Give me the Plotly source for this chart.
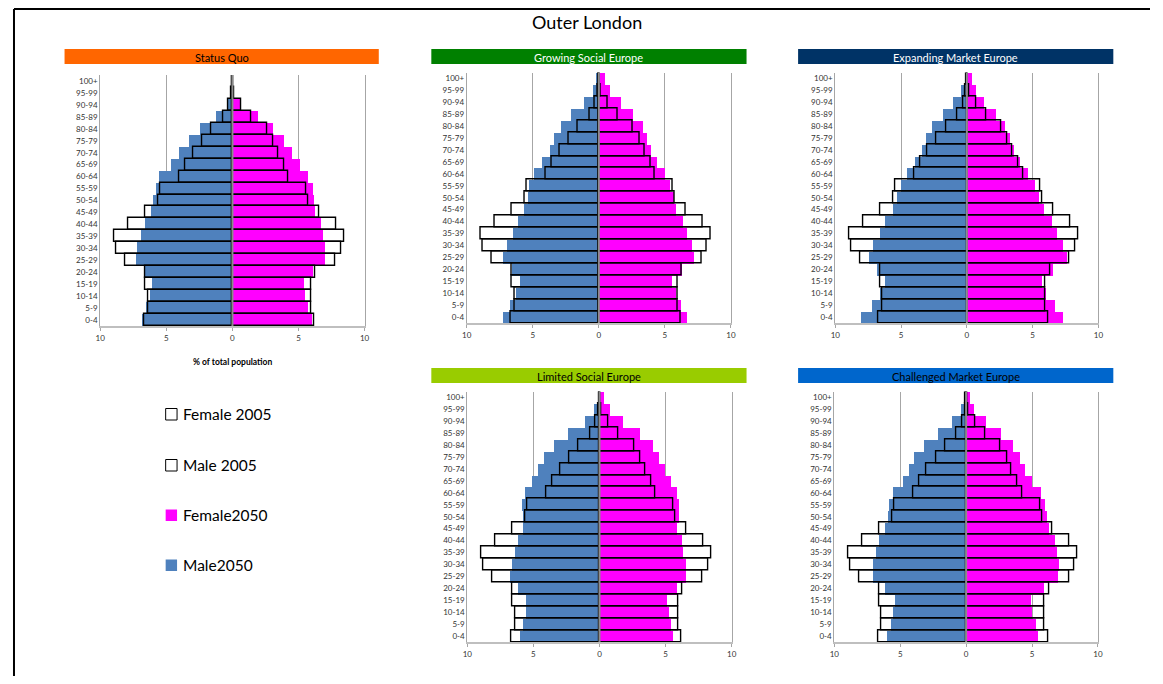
import plotly.graph_objects as go

W, H = 1163, 684
OFF = 8  # the page body keeps an 8px margin around the plot
FW, FH = W - 2 * OFF, H - 2 * OFF

# age bands, bottom to top
ages = ["0-4", "5-9", "10-14", "15-19", "20-24", "25-29", "30-34", "35-39",
        "40-44", "45-49", "50-54", "55-59", "60-64", "65-69", "70-74",
        "75-79", "80-84", "85-89", "90-94", "95-99", "100+"]

# 2005 base year (same in every panel), % of total population
male_2005 = [6.7, 6.4, 6.4, 6.6, 6.6, 8.1, 8.8, 8.95, 7.9, 6.6, 5.6, 5.45,
             4.0, 3.55, 3.0, 2.3, 1.6, 0.72, 0.3, 0.1, 0.03]
female_2005 = [6.2, 5.95, 5.95, 5.95, 6.3, 7.8, 8.2, 8.45, 7.85, 6.55, 5.75,
               5.6, 4.25, 3.9, 3.45, 3.1, 2.6, 1.45, 0.7, 0.15, 0.05]

# 2050 scenarios
sq_male = [6.8, 6.5, 6.25, 6.1, 6.6, 7.3, 7.2, 6.9, 6.6, 6.15, 6.0, 5.8,
           5.5, 4.65, 4.0, 3.3, 2.4, 1.2, 0.35, 0.05, 0.03]
sq_female = [6.0, 5.7, 5.5, 5.4, 6.15, 7.05, 7.05, 6.9, 6.7, 6.3, 6.2, 6.15,
             5.75, 5.1, 4.5, 3.9, 3.1, 1.95, 0.7, 0.15, 0.03]

gse_male = [7.3, 6.75, 6.3, 6.0, 6.6, 7.3, 7.0, 6.5, 6.15, 5.7, 5.4, 5.3,
            4.9, 4.3, 3.75, 3.45, 2.9, 2.1, 1.15, 0.5, 0.25]
gse_female = [6.65, 6.2, 5.8, 5.55, 6.3, 7.2, 7.05, 6.65, 6.35, 5.85, 5.65,
              5.4, 5.0, 4.4, 3.95, 3.65, 3.3, 2.6, 1.65, 0.8, 0.45]

eme_male = [8.0, 7.2, 6.55, 6.2, 6.8, 7.45, 7.15, 6.6, 6.2, 5.6, 5.3, 5.0,
            4.5, 3.9, 3.4, 3.05, 2.6, 1.8, 1.0, 0.4, 0.15]
eme_female = [7.3, 6.7, 6.0, 5.7, 6.6, 7.6, 7.3, 6.9, 6.5, 5.85, 5.5, 5.2,
              4.7, 4.05, 3.6, 3.3, 2.9, 2.25, 1.35, 0.7, 0.4]

lse_male = [6.0, 5.8, 5.55, 5.55, 6.15, 6.75, 6.6, 6.4, 6.15, 5.8, 5.75, 5.85,
            5.65, 5.05, 4.6, 4.2, 3.45, 2.35, 1.1, 0.4, 0.1]
lse_female = [5.6, 5.4, 5.25, 5.15, 5.85, 6.6, 6.6, 6.35, 6.3, 5.9, 6.0, 6.05,
              5.9, 5.4, 4.95, 4.55, 4.05, 3.05, 1.8, 0.8, 0.35]

cme_male = [6.0, 5.7, 5.5, 5.35, 6.15, 7.05, 7.05, 6.8, 6.6, 6.15, 5.9, 5.85,
            5.5, 4.8, 4.3, 3.9, 3.15, 2.1, 1.05, 0.4, 0.1]
cme_female = [5.45, 5.3, 5.0, 4.95, 5.95, 7.0, 7.05, 6.9, 6.75, 6.3, 6.15,
              6.0, 5.7, 5.0, 4.5, 4.1, 3.6, 2.7, 1.5, 0.65, 0.3]

scenario_names = ["Status Quo", "Growing Social Europe", "Expanding Market Europe",
                  "Limited Social Europe", "Challenged Market Europe"]
males_2050 = [sq_male, gse_male, eme_male, lse_male, cme_male]
females_2050 = [sq_female, gse_female, eme_female, lse_female, cme_female]

tick_vals = [-10, -5, 0, 5, 10]
tick_text = ["10", "5", "0", "5", "10"]

BLUE = "#4F81BD"
PINK = "#FF00FF"
FONT = "Lato"

# layout of panels, in screen pixels: plot box (x0, x1, y0, y1), title bar, bar colours
panels = [
    dict(plot=(96, 362.7, 75, 326), bar=(60, 377, 49, 64), bg="#FF6600", fg="black"),
    dict(plot=(465.7, 732.3, 72.5, 323), bar=(430, 748, 49, 64), bg="#008000", fg="white"),
    dict(plot=(837.5, 1103, 72.5, 323), bar=(800, 1118, 49, 64), bg="#003366", fg="white"),
    dict(plot=(466.3, 733, 391.5, 642), bar=(430, 748, 368, 383), bg="#99CC00", fg="black"),
    dict(plot=(836.5, 1102.5, 391.5, 642), bar=(800, 1118, 368, 383), bg="#0066CC", fg="black"),
]


def px(x):
    return (x - OFF) / FW


def py(y):
    return 1 - (y - OFF) / FH


def label(text, x, y, size, color="black", xanchor="center", bold=False):
    if bold:
        text = "<b>" + text + "</b>"
    return dict(text=text, xref="paper", yref="paper", x=px(x), y=py(y),
                xanchor=xanchor, yanchor="middle", showarrow=False,
                font=dict(size=size, color=color, family=FONT))


fig = go.Figure()
shapes = []
annotations = []

for i, p in enumerate(panels):
    sfx = "" if i == 0 else str(i + 1)
    xa, ya = "x" + sfx, "y" + sfx
    m50, f50 = males_2050[i], females_2050[i]

    fig.add_trace(go.Bar(y=ages, x=[-v for v in m50], orientation="h",
                         marker=dict(color=BLUE, line_width=0),
                         xaxis=xa, yaxis=ya, showlegend=False, name="Male2050"))
    fig.add_trace(go.Bar(y=ages, x=f50, orientation="h",
                         marker=dict(color=PINK, line_width=0),
                         xaxis=xa, yaxis=ya, showlegend=False, name="Female2050"))
    fig.add_trace(go.Bar(y=ages, x=[-v for v in male_2005], orientation="h",
                         marker=dict(color="rgba(0,0,0,0)", line=dict(color="black", width=1.4)),
                         xaxis=xa, yaxis=ya, showlegend=False, name="Male 2005"))
    fig.add_trace(go.Bar(y=ages, x=female_2005, orientation="h",
                         marker=dict(color="rgba(0,0,0,0)", line=dict(color="black", width=1.4)),
                         xaxis=xa, yaxis=ya, showlegend=False, name="Female 2005"))

    x0, x1, y0, y1 = p["plot"]
    fig.update_layout(**{
        "xaxis" + sfx: dict(domain=[px(x0), px(x1)], range=[-10, 10], anchor=ya,
                            tickvals=tick_vals, ticktext=tick_text,
                            showgrid=True, gridcolor="#A6A6A6", gridwidth=1,
                            zeroline=False, showline=True, linecolor="#BFBFBF", linewidth=2,
                            ticks="outside", ticklen=3, tickcolor="#A6A6A6",
                            tickfont=dict(size=8, color="#333333"), fixedrange=True),
        "yaxis" + sfx: dict(domain=[py(y1), py(y0)], type="category", anchor=xa,
                            range=[-0.5, len(ages) - 0.5],
                            showgrid=False, zeroline=False,
                            showline=True, mirror=True, linecolor="#A6A6A6", linewidth=1,
                            ticks="", tickfont=dict(size=8, color="#333333"),
                            fixedrange=True),
    })

    # centre axis line drawn over the bars
    shapes.append(dict(type="line", xref=xa, yref=ya + " domain", x0=0, x1=0, y0=0, y1=1,
                       line=dict(color="#8C8C8C", width=2), layer="above"))

    # coloured title bar
    bx0, bx1, by0, by1 = p["bar"]
    shapes.append(dict(type="rect", xref="paper", yref="paper",
                       x0=px(bx0), x1=px(bx1), y0=py(by1), y1=py(by0),
                       fillcolor=p["bg"], line_width=0, layer="below"))
    annotations.append(label(scenario_names[i], (bx0 + bx1) / 2, (by0 + by1) / 2 + 0.5,
                             11, color=p["fg"]))

# axis title under the first panel
annotations.append(label("% of total population", 229.3, 362, 8.5, bold=True))

# main title
annotations.append(label("Outer London", 587, 22, 18))

# hand-made legend
legend_items = [("Female 2005", "white", 414), ("Male 2005", "white", 465),
                ("Female2050", PINK, 515), ("Male2050", BLUE, 565)]
for text, color, yc in legend_items:
    line = dict(color="black", width=1) if color == "white" else dict(width=0)
    shapes.append(dict(type="rect", xref="paper", yref="paper",
                       x0=px(162), x1=px(173.5), y0=py(yc + 6), y1=py(yc - 5.5),
                       fillcolor=color, line=line))
    annotations.append(label(text, 177, yc, 15.5, xanchor="left"))

# outer frame (left and top edges)
shapes.append(dict(type="line", xref="paper", yref="paper", x0=px(9), x1=px(9),
                   y0=py(9), y1=0, line=dict(color="black", width=2)))
shapes.append(dict(type="line", xref="paper", yref="paper", x0=px(9), x1=1,
                   y0=py(9), y1=py(9), line=dict(color="black", width=2)))

fig.update_layout(
    width=FW, height=FH,
    margin=dict(l=0, r=0, t=0, b=0),
    barmode="overlay", bargap=0,
    paper_bgcolor="white", plot_bgcolor="white",
    font=dict(family=FONT, color="#333333"),
    shapes=shapes, annotations=annotations,
    showlegend=False,
)

fig.write_html("out.html")
